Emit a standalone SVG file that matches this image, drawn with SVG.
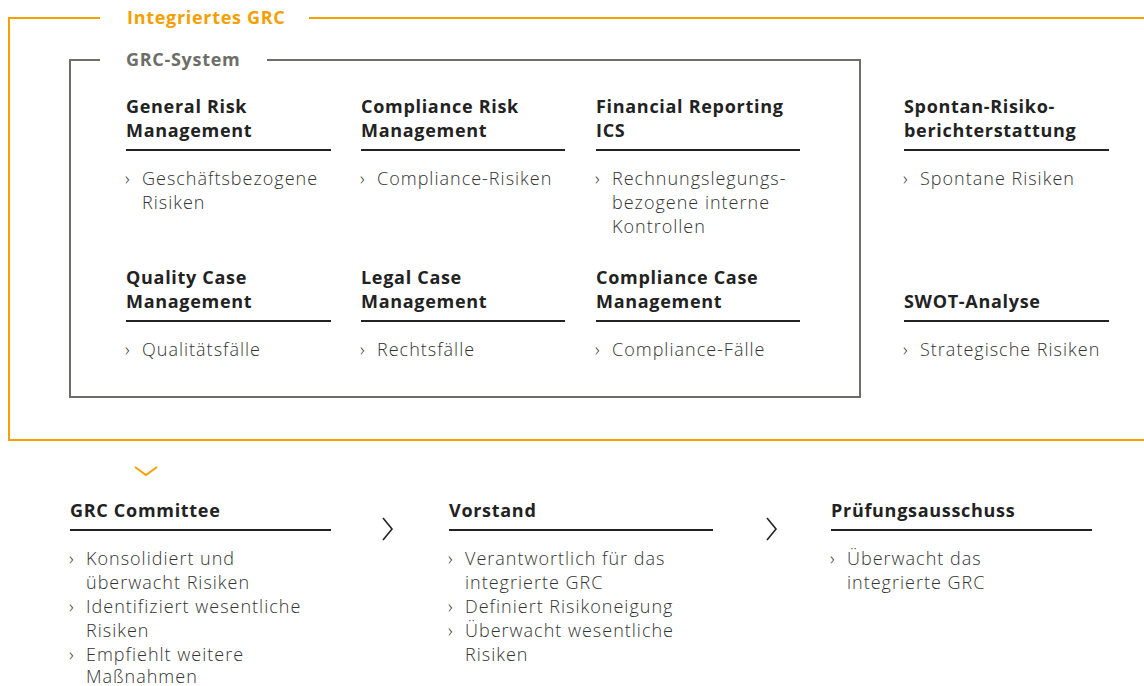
<svg xmlns="http://www.w3.org/2000/svg" width="1144" height="686" viewBox="0 0 1144 686">
<style>
.h{font-family:"Open Sans","Noto Sans",sans-serif;font-size:18px;font-weight:700;fill:#222;letter-spacing:0.7px}
.t{font-family:"Open Sans","Noto Sans",sans-serif;font-size:18px;font-weight:300;fill:#333;letter-spacing:1px}
.b{font-family:"Open Sans","Noto Sans",sans-serif;font-size:18px;font-weight:300;fill:#333}
.ul{stroke:#222;stroke-width:2}
.chev{fill:none;stroke:#222;stroke-width:1.6}
</style>
<rect width="1144" height="686" fill="#fff"/>
<g id="frame-integriert">
<path d="M100 18 H9 V440 H1144 M309 18 H1144" fill="none" stroke="#F5A000" stroke-width="2"/>
<text x="127" y="24" style="font-family:'Open Sans','Noto Sans',sans-serif;font-size:18px;font-weight:700;fill:#F5A000;letter-spacing:0.7px">Integriertes GRC</text>
</g>
<g id="frame-grc-system">
<path d="M100 60 H70 V397 H860 V60 H267" fill="none" stroke="#6e6e68" stroke-width="2"/>
<text x="126" y="66" style="font-family:'Open Sans','Noto Sans',sans-serif;font-size:18px;font-weight:700;fill:#6e6e68;letter-spacing:0.7px">GRC-System</text>
</g>
<g id="n-grm">
<text class="h" x="126" y="113">General Risk</text><text class="h" x="126" y="137">Management</text>
<line class="ul" x1="126" y1="150" x2="331" y2="150"/>
<text class="b" x="125" y="185">›</text><text class="t" x="142" y="185">Geschäftsbezogene</text><text class="t" x="142" y="209">Risiken</text>
</g>
<g id="n-crm">
<text class="h" x="361" y="113">Compliance Risk</text><text class="h" x="361" y="137">Management</text>
<line class="ul" x1="361" y1="150" x2="565" y2="150"/>
<text class="b" x="360" y="185">›</text><text class="t" x="377" y="185">Compliance-Risiken</text>
</g>
<g id="n-frics">
<text class="h" x="596" y="113">Financial Reporting</text><text class="h" x="596" y="137">ICS</text>
<line class="ul" x1="596" y1="150" x2="800" y2="150"/>
<text class="b" x="595" y="185">›</text><text class="t" x="612" y="185">Rechnungslegungs-</text><text class="t" x="612" y="209">bezogene interne</text><text class="t" x="612" y="233">Kontrollen</text>
</g>
<g id="n-spontan">
<text class="h" x="904" y="113">Spontan-Risiko-</text><text class="h" x="904" y="137">berichterstattung</text>
<line class="ul" x1="904" y1="150" x2="1109" y2="150"/>
<text class="b" x="903" y="185">›</text><text class="t" x="920" y="185">Spontane Risiken</text>
</g>
<g id="n-qcm">
<text class="h" x="126" y="284">Quality Case</text><text class="h" x="126" y="308">Management</text>
<line class="ul" x1="126" y1="321" x2="331" y2="321"/>
<text class="b" x="125" y="356">›</text><text class="t" x="142" y="356">Qualitätsfälle</text>
</g>
<g id="n-lcm">
<text class="h" x="361" y="284">Legal Case</text><text class="h" x="361" y="308">Management</text>
<line class="ul" x1="361" y1="321" x2="565" y2="321"/>
<text class="b" x="360" y="356">›</text><text class="t" x="377" y="356">Rechtsfälle</text>
</g>
<g id="n-ccm">
<text class="h" x="596" y="284">Compliance Case</text><text class="h" x="596" y="308">Management</text>
<line class="ul" x1="596" y1="321" x2="800" y2="321"/>
<text class="b" x="595" y="356">›</text><text class="t" x="612" y="356">Compliance-Fälle</text>
</g>
<g id="n-swot">
<text class="h" x="904" y="308">SWOT-Analyse</text>
<line class="ul" x1="904" y1="321" x2="1109" y2="321"/>
<text class="b" x="903" y="356">›</text><text class="t" x="920" y="356">Strategische Risiken</text>
</g>
<g id="n-committee">
<text class="h" x="70" y="517">GRC Committee</text>
<line class="ul" x1="70" y1="530" x2="331" y2="530"/>
<text class="b" x="69" y="565">›</text><text class="t" x="86" y="565">Konsolidiert und</text><text class="t" x="86" y="589">überwacht Risiken</text>
<text class="b" x="69" y="613">›</text><text class="t" x="86" y="613">Identifiziert wesentliche</text><text class="t" x="86" y="637">Risiken</text>
<text class="b" x="69" y="661">›</text><text class="t" x="86" y="661">Empfiehlt weitere</text><text class="t" x="86" y="683">Maßnahmen</text>
</g>
<g id="n-vorstand">
<text class="h" x="449" y="517">Vorstand</text>
<line class="ul" x1="449" y1="530" x2="713" y2="530"/>
<text class="b" x="448" y="565">›</text><text class="t" x="465" y="565">Verantwortlich für das</text><text class="t" x="465" y="589">integrierte GRC</text>
<text class="b" x="448" y="613">›</text><text class="t" x="465" y="613">Definiert Risikoneigung</text>
<text class="b" x="448" y="637">›</text><text class="t" x="465" y="637">Überwacht wesentliche</text><text class="t" x="465" y="661">Risiken</text>
</g>
<g id="n-pruefung">
<text class="h" x="831" y="517">Prüfungsausschuss</text>
<line class="ul" x1="831" y1="530" x2="1092" y2="530"/>
<text class="b" x="830" y="565">›</text><text class="t" x="847" y="565">Überwacht das</text><text class="t" x="847" y="589">integrierte GRC</text>
</g>
<g id="connectors">
<path d="M135 467 L146 475 L157 467" fill="none" stroke="#F5A000" stroke-width="2"/>
<path class="chev" d="M383 518 L392 529 L383 540"/>
<path class="chev" d="M767 518 L776 529 L767 540"/>
</g>
</svg>
